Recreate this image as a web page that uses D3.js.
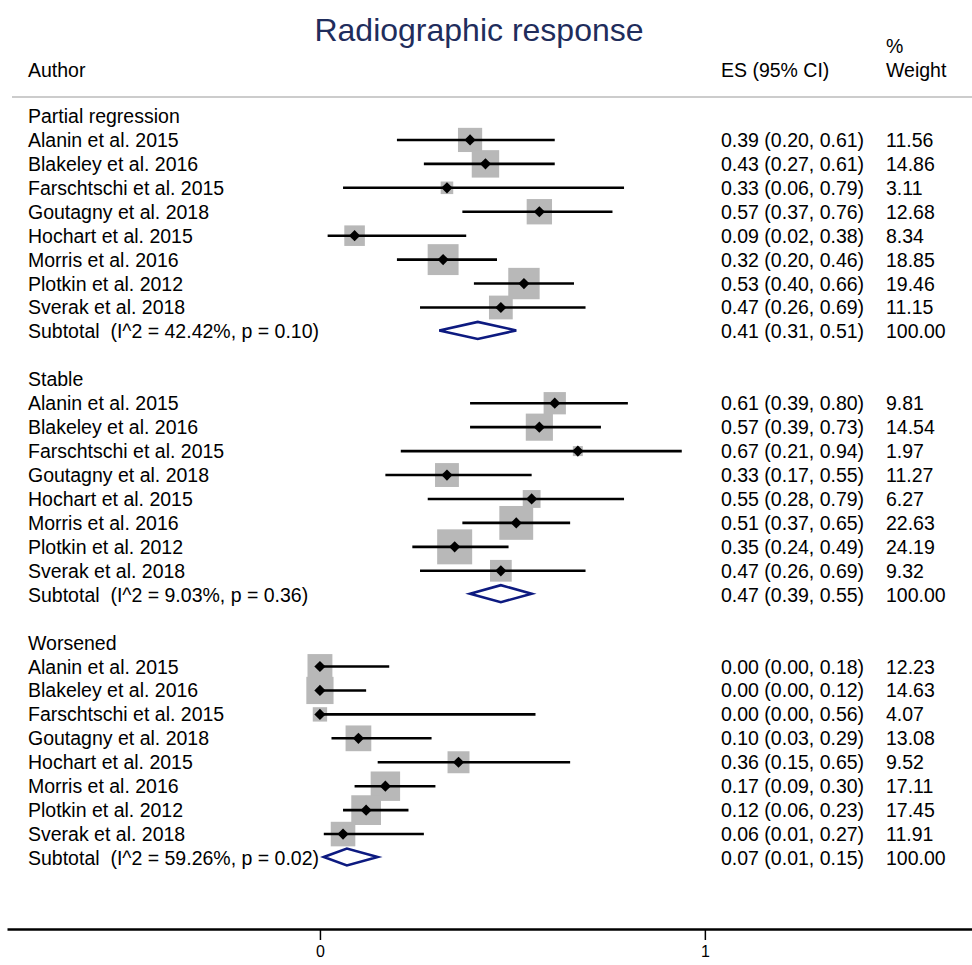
<!DOCTYPE html>
<html>
<head>
<meta charset="utf-8">
<script src="https://cdn.jsdelivr.net/npm/d3@7"></script>
<style>
  body { margin: 0; background: #fff; }
  svg text { font-family: "Liberation Sans", Arial, Helvetica, sans-serif; fill: #000; }
</style>
</head>
<body>
<div id="chart"></div>
<script>
// study labels (same order in each subgroup)
var authors = ["Alanin et al. 2015", "Blakeley et al. 2016", "Farschtschi et al. 2015",
               "Goutagny et al. 2018", "Hochart et al. 2015", "Morris et al. 2016",
               "Plotkin et al. 2012", "Sverak et al. 2018"];
var groups = ["Partial regression", "Stable", "Worsened"];

// effect sizes and 95% CI per subgroup
var es     = [[0.39, 0.43, 0.33, 0.57, 0.09, 0.32, 0.53, 0.47],
              [0.61, 0.57, 0.67, 0.33, 0.55, 0.51, 0.35, 0.47],
              [0.00, 0.00, 0.00, 0.10, 0.36, 0.17, 0.12, 0.06]];
var lower  = [[0.20, 0.27, 0.06, 0.37, 0.02, 0.20, 0.40, 0.26],
              [0.39, 0.39, 0.21, 0.17, 0.28, 0.37, 0.24, 0.26],
              [0.00, 0.00, 0.00, 0.03, 0.15, 0.09, 0.06, 0.01]];
var upper  = [[0.61, 0.61, 0.79, 0.76, 0.38, 0.46, 0.66, 0.69],
              [0.80, 0.73, 0.94, 0.55, 0.79, 0.65, 0.49, 0.69],
              [0.18, 0.12, 0.56, 0.29, 0.65, 0.30, 0.23, 0.27]];
var weight = [[11.56, 14.86, 3.11, 12.68, 8.34, 18.85, 19.46, 11.15],
              [9.81, 14.54, 1.97, 11.27, 6.27, 22.63, 24.19, 9.32],
              [12.23, 14.63, 4.07, 13.08, 9.52, 17.11, 17.45, 11.91]];

// subtotals
var subES = [0.41, 0.47, 0.07];
var subLo = [0.31, 0.39, 0.01];
var subHi = [0.51, 0.55, 0.15];
var subI2 = ["42.42", "9.03", "59.26"];
var subP  = ["0.10", "0.36", "0.02"];

var xTicks = [0, 1];

var W = 972, H = 965;
var f2 = d3.format(".2f");
var fs = "19.5px";

var svg = d3.select("#chart").append("svg")
    .attr("width", W)
    .attr("height", H);

// x scale: 0 -> 320px, 1 -> 705px
var x = d3.scaleLinear()
    .domain([-0.813, 1.694])
    .range([7, 972]);

// row positions
var nRows = 32;
var y = d3.scaleLinear()
    .domain([0, nRows - 1])
    .range([116, 858]);

// build rows
var rows = [];
groups.forEach(function(g, gi) {
    rows.push({type: "head", label: g});
    authors.forEach(function(a, i) {
        rows.push({type: "study", label: a, es: es[gi][i], lo: lower[gi][i],
                   hi: upper[gi][i], w: weight[gi][i]});
    });
    rows.push({type: "sub", label: "Subtotal  (I^2 = " + subI2[gi] + "%, p = " + subP[gi] + ")",
               es: subES[gi], lo: subLo[gi], hi: subHi[gi], w: 100});
    if (gi < groups.length - 1) rows.push({type: "blank"});
});
rows.forEach(function(r, i) { r.y = y(i); });

// title
svg.append("text")
    .attr("x", 479)
    .attr("y", 41)
    .attr("text-anchor", "middle")
    .style("font-size", "32px")
    .style("fill", "#1f2d5c")
    .text("Radiographic response");

// header
var head = svg.append("g").style("font-size", fs);
head.append("text").attr("x", 28).attr("y", 77).text("Author");
head.append("text").attr("x", 721).attr("y", 77).text("ES (95% CI)");
head.append("text").attr("x", 886).attr("y", 53).text("%");
head.append("text").attr("x", 886).attr("y", 77).text("Weight");

svg.append("line")
    .attr("x1", 12).attr("x2", W)
    .attr("y1", 97).attr("y2", 97)
    .style("stroke", "#cccccc")
    .style("stroke-width", 2);

// left labels
svg.append("g").selectAll("text")
    .data(rows.filter(function(r) { return r.type != "blank"; }))
    .enter().append("text")
    .attr("x", 28)
    .attr("y", function(r) { return r.y + 7; })
    .style("font-size", fs)
    .style("white-space", "pre")
    .attr("xml:space", "preserve")
    .text(function(r) { return r.label; });

var studies = rows.filter(function(r) { return r.type == "study"; });
var subs = rows.filter(function(r) { return r.type == "sub"; });
var withVals = rows.filter(function(r) { return r.type == "study" || r.type == "sub"; });

// right text columns
svg.append("g").selectAll("text")
    .data(withVals)
    .enter().append("text")
    .attr("x", 721)
    .attr("y", function(r) { return r.y + 7; })
    .style("font-size", fs)
    .text(function(r) { return f2(r.es) + " (" + f2(r.lo) + ", " + f2(r.hi) + ")"; });

svg.append("g").selectAll("text")
    .data(withVals)
    .enter().append("text")
    .attr("x", 886)
    .attr("y", function(r) { return r.y + 7; })
    .style("font-size", fs)
    .text(function(r) { return f2(r.w); });

// weight boxes, side proportional to sqrt(weight)
var box = d3.scaleSqrt().domain([0, 24.19]).range([0, 35]);
svg.append("g").selectAll("rect")
    .data(studies)
    .enter().append("rect")
    .attr("x", function(r) { return x(r.es) - box(r.w) / 2; })
    .attr("y", function(r) { return r.y - box(r.w) / 2; })
    .attr("width", function(r) { return box(r.w); })
    .attr("height", function(r) { return box(r.w); })
    .style("fill", "#b8b8b8");

// CI lines
svg.append("g").selectAll("line")
    .data(studies)
    .enter().append("line")
    .attr("x1", function(r) { return x(r.lo); })
    .attr("x2", function(r) { return x(r.hi); })
    .attr("y1", function(r) { return r.y; })
    .attr("y2", function(r) { return r.y; })
    .style("stroke", "#000")
    .style("stroke-width", 2.6);

// point estimates
var sym = d3.symbol().type(d3.symbolDiamond2).size(80);
svg.append("g").selectAll("path")
    .data(studies)
    .enter().append("path")
    .attr("transform", function(r) { return "translate(" + x(r.es) + "," + r.y + ")"; })
    .attr("d", sym)
    .style("fill", "#000");

// subtotal diamonds
svg.append("g").selectAll("path")
    .data(subs)
    .enter().append("path")
    .attr("d", function(r) {
        var yy = r.y - 1, h = 8.5;
        return "M" + x(r.lo) + "," + yy + "L" + x(r.es) + "," + (yy - h) +
               "L" + x(r.hi) + "," + yy + "L" + x(r.es) + "," + (yy + h) + "Z";
    })
    .style("fill", "#fff")
    .style("stroke", "#0d1a80")
    .style("stroke-width", 2.6);

// x axis
var axis = svg.append("g")
    .attr("transform", "translate(0,929)")
    .call(d3.axisBottom(x).tickValues(xTicks).tickFormat(d3.format("d"))
        .tickSize(11).tickSizeOuter(0).tickPadding(6));
axis.select(".domain").style("stroke-width", 2.6).style("stroke", "#000");
axis.selectAll(".tick line").style("stroke-width", 1.5);
axis.selectAll(".tick text")
    .style("font-size", "16px")
    .style("font-family", "'Liberation Sans', Arial, sans-serif")
    .style("fill", "#000");
</script>
</body>
</html>
